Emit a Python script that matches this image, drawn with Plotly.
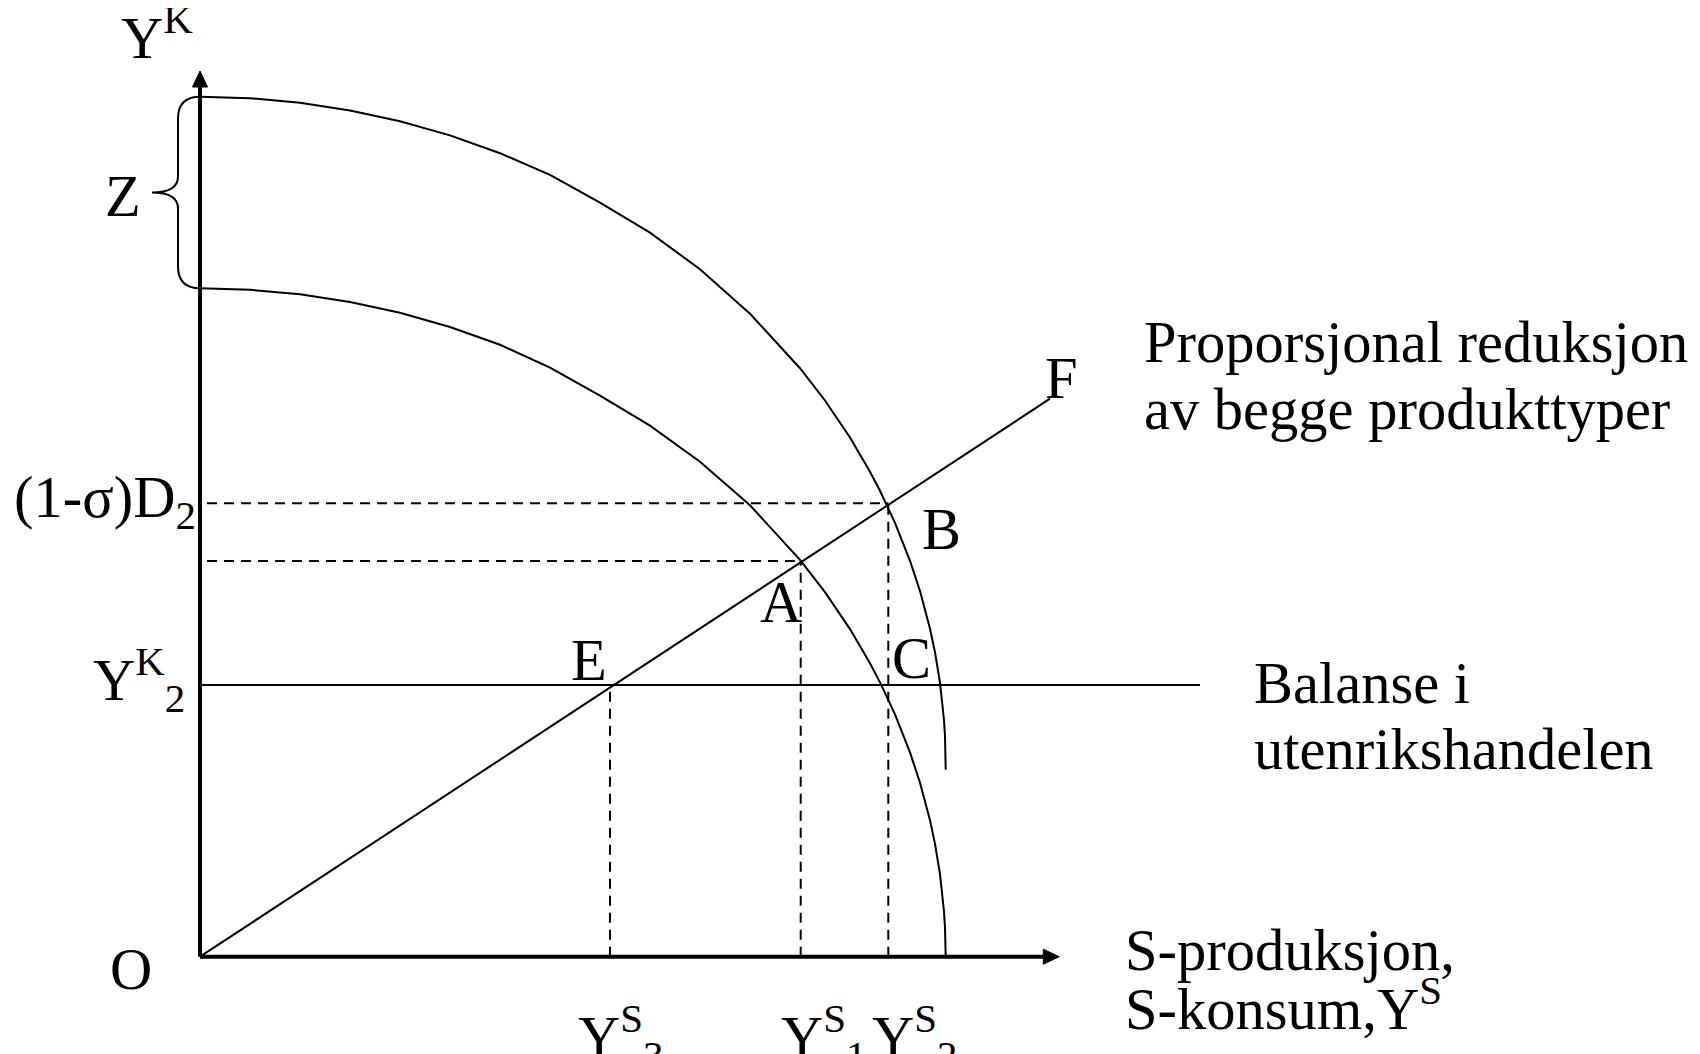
import plotly.graph_objects as go

# ---------------- data (diagram units) ----------------
inner_x = [0, 5, 10, 15, 20, 25, 30, 35, 40, 45, 50, 55, 60, 62.5, 65, 67, 68, 69.5, 71, 72, 73, 73.5, 74, 74.2, 74.4, 74.5, 74.57]
inner_y = [66.84, 66.69, 66.24, 65.47, 64.39, 62.97, 61.19, 58.9, 56.1, 53.1, 49.5, 45.14, 39.69, 36.46, 32.76, 29.34, 27.43, 24.23, 20.43, 17.40, 13.64, 11.28, 8.25, 6.65, 4.51, 2.90, 0]
outer_x = [0, 5, 10, 15, 20, 25, 30, 35, 40, 45, 50, 55, 60, 62.5, 65, 67, 68, 69.5, 71, 72, 73, 73.5, 74, 74.2, 74.4, 74.5, 74.57]
outer_y = [86.00, 85.85, 85.40, 84.63, 83.55, 82.13, 80.35, 78.18, 75.4, 72.4, 68.75, 64.30, 58.85, 55.62, 51.92, 48.50, 46.59, 43.39, 39.59, 36.56, 32.80, 30.44, 27.41, 25.81, 23.67, 22.06, 18.70]

f_line_x = [0, 85.0]
f_line_y = [0, 55.8]

yk2_level = 27.17
balance_line_x = [0, 100.0]

point_names = ["E", "A", "B", "C"]
point_x = [41.0, 60.07, 68.83, 68.83]
point_y = [27.17, 39.57, 45.34, 27.17]

x_axis_end = 85.93
y_axis_end = 88.57

# ---------------- styling ----------------
FONT = "Liberation Serif, Times New Roman, serif"
FS = 58.5
BLACK = "black"

fig = go.Figure()

def line(xs, ys, width=2, dash=None):
    fig.add_trace(go.Scatter(x=xs, y=ys, mode="lines", hoverinfo="skip", showlegend=False,
                             line=dict(color=BLACK, width=width, dash=dash)))

P = dict(zip(point_names, zip(point_x, point_y)))

# axes with arrowheads
ah_len, ah_half = 1.6, 0.75
line([0, 0], [0, y_axis_end - ah_len], width=4)
line([0, x_axis_end - ah_len], [0, 0], width=4)
fig.add_trace(go.Scatter(x=[-ah_half, ah_half, 0, -ah_half],
                         y=[y_axis_end - ah_len, y_axis_end - ah_len, y_axis_end, y_axis_end - ah_len],
                         mode="lines", fill="toself", fillcolor=BLACK, line=dict(color=BLACK, width=1),
                         hoverinfo="skip", showlegend=False))
fig.add_trace(go.Scatter(x=[x_axis_end - ah_len, x_axis_end - ah_len, x_axis_end, x_axis_end - ah_len],
                         y=[-ah_half, ah_half, 0, -ah_half],
                         mode="lines", fill="toself", fillcolor=BLACK, line=dict(color=BLACK, width=1),
                         hoverinfo="skip", showlegend=False))

# curves
line(inner_x, inner_y, width=2)
line(outer_x, outer_y, width=2)
# F ray and balance line
line(f_line_x, f_line_y, width=2)
line(balance_line_x, [yk2_level, yk2_level], width=2)

# dashed guide lines
DASH = "10px,7px"
for name in ["A", "B"]:
    px, py = P[name]
    line([0.7, px], [py, py], width=2, dash=DASH)
for name in ["E", "A", "B"]:
    px, py = P[name]
    line([px, px], [0, py], width=2, dash=DASH)

# brace for Z
top = outer_y[0]
bot = inner_y[0]
mid = (top + bot) / 2
bx, tx = -2.2, -4.8
path = (f"M 0,{top} Q {bx},{top} {bx},{top-2.2} L {bx},{mid+1.6} "
        f"Q {bx},{mid} {tx},{mid} Q {bx},{mid} {bx},{mid-1.6} "
        f"L {bx},{bot+2.2} Q {bx},{bot} 0,{bot}")
fig.add_shape(type="path", path=path, xref="x", yref="y", line=dict(color=BLACK, width=2))

def label(text, x, y, xanchor="center", yanchor="middle", xshift=0, yshift=0, size=FS):
    fig.add_annotation(text=text, x=x, y=y, xref="x", yref="y", showarrow=False,
                       xanchor=xanchor, yanchor=yanchor, xshift=xshift, yshift=yshift,
                       font=dict(family=FONT, size=size, color=BLACK))

# point labels
label("A", *P["A"], xshift=-20, yshift=-41)
label("B", *P["B"], xshift=53, yshift=-26)
label("C", *P["C"], xshift=23, yshift=27)
label("E", *P["E"], xshift=-21, yshift=25)
label("F", f_line_x[1], f_line_y[1], xshift=11, yshift=20)
label("O", 0, 0, xshift=-69, yshift=-13)

# axis labels left
label("Y<sup>K</sup>", 0, y_axis_end, xanchor="center", xshift=-43, yshift=37)
label("Z", 0, mid, xanchor="center", xshift=-77, yshift=-4)
label("(1-σ)D<sub>2</sub>", 0, P["B"][1], xanchor="right", xshift=-2, yshift=2)
label("Y<sup>K</sup><sub>2</sub>", 0, yk2_level, xanchor="right", xshift=-13, yshift=5)

# bottom labels
label("Y<sup>S</sup><sub>3</sub>", P["E"][0], 0, xshift=11, yshift=-80)
label("Y<sup>S</sup><sub>1</sub>", P["A"][0], 0, xshift=23, yshift=-80)
label("Y<sup>S</sup><sub>2</sub>", P["B"][0], 0, xshift=27, yshift=-80)

# right-hand texts
label("Proporsjonal reduksjon", 94.2, (956.7 - 345) / 10, xanchor="left", yshift=3)
label("av begge produkttyper", 94.2, (956.7 - 412) / 10, xanchor="left", yshift=3)
label("Balanse i", 105.2, yk2_level, xanchor="left", yshift=2)
label("utenrikshandelen", 105.2, yk2_level, xanchor="left", yshift=-64)
label("S-produksjon,", 92.3, 0, xanchor="left", yshift=6)
label("S-konsum,Y<sup>S</sup>", 92.3, 0, xanchor="left", yshift=-48)

# page body has an 8px margin; the figure is sized to fill the rest of the window
fig.update_layout(
    width=1692, height=1046,
    margin=dict(l=0, r=0, t=0, b=0),
    paper_bgcolor="white", plot_bgcolor="white",
    xaxis=dict(visible=False, range=[-19.2, 150.0], fixedrange=True),
    yaxis=dict(visible=False, range=[-9.73, 94.87], fixedrange=True),
    showlegend=False,
)

fig.write_html("out.html")
